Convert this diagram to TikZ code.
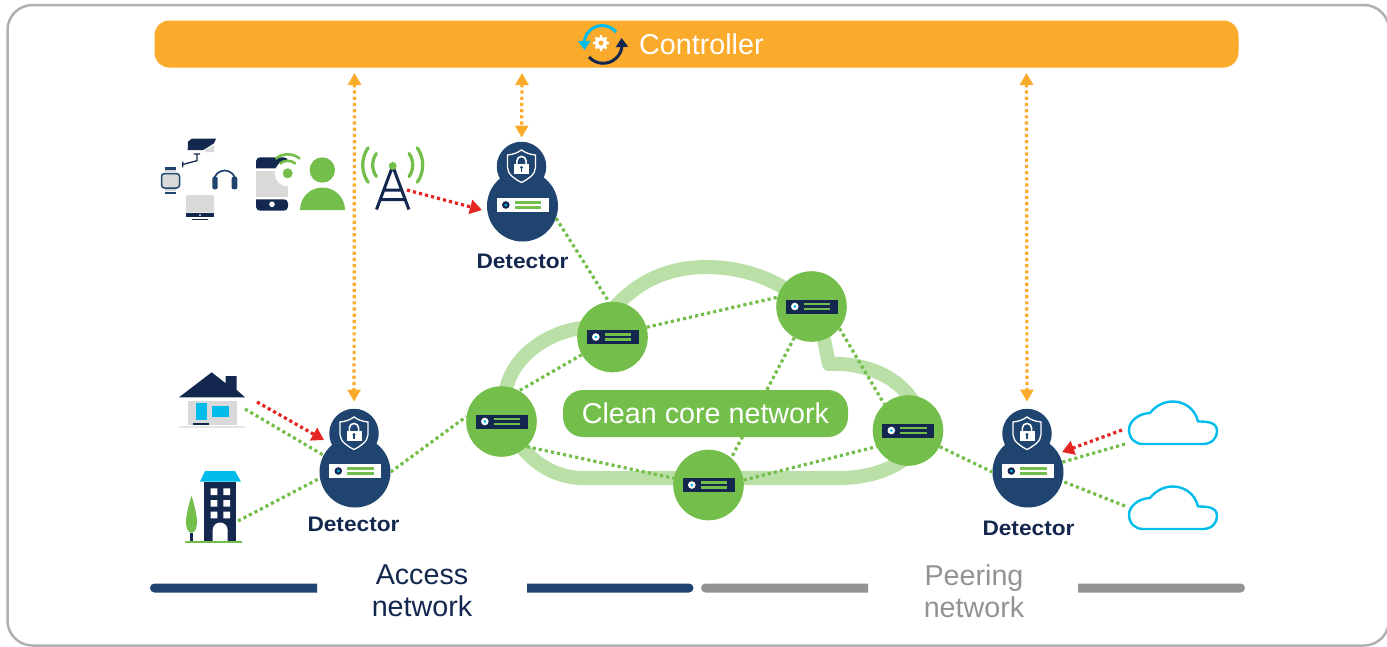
\documentclass[tikz,border=0pt]{standalone}
\usepackage{fontspec}
\setmainfont{Liberation Sans}
\newfontfamily\detfont[FakeStretch=1.08]{Liberation Sans}
\usetikzlibrary{arrows.meta}
\definecolor{netgreen}{HTML}{74BF4B}
\definecolor{palegreen}{HTML}{BBE0A7}
\definecolor{netnavy}{HTML}{14284F}
\definecolor{netblue}{HTML}{1F4470}
\definecolor{netcyan}{HTML}{00BCEB}
\definecolor{netorange}{HTML}{FBAB2C}
\definecolor{netred}{HTML}{E52521}
\definecolor{netgray}{HTML}{D9D9D9}
\definecolor{lanegray}{HTML}{939393}
\definecolor{framegray}{HTML}{B0B0B0}
\tikzset{
  core/.style={circle, fill=netgreen, minimum size=70.6pt, inner sep=0pt},
  detbody/.style={circle, fill=netblue, minimum size=71pt, inner sep=0pt},
  dethead/.style={circle, fill=netblue, minimum size=49.5pt, inner sep=0pt},
  detlabel/.style={text=netnavy, font=\detfont\bfseries\fontsize{21}{24}\selectfont, inner sep=0pt},
  bigtext/.style={font=\fontsize{28.7}{32}\selectfont, align=center, inner sep=0pt},
  link/.style={netgreen, line width=3.2pt, dash pattern=on 3.2pt off 3pt},
  attack/.style={netred, line width=3.2pt, dash pattern=on 3.2pt off 3pt, -{Triangle[length=12pt,width=14pt]}},
  sync/.style={netorange, line width=3.2pt, dash pattern=on 3.2pt off 3pt, {Triangle[length=12pt,width=13pt]}-{Triangle[length=12pt,width=13pt]}},
  pics/rack/.style 2 args={code={
    \fill[#1] (-26,-7) rectangle (26,7);
    \fill[#2] (-16.7,0) circle (3.8);
    \fill[netcyan] (-16.7,0) circle (1.5);
    \draw[netgreen, line width=2.3pt] (-8,2.5) -- (18.5,2.5) (-8,-2.5) -- (18.5,-2.5);
  }},
  pics/shieldlock/.style={code={
    \draw[white, line width=1.3pt] (0,16.5) .. controls (-4,13.5) and (-9,12) .. (-14,11.5) -- (-14,-1) .. controls (-14,-8) and (-6,-13) .. (0,-16) .. controls (6,-13) and (14,-8) .. (14,-1) -- (14,11.5) .. controls (9,12) and (4,13.5) .. (0,16.5) -- cycle;
    \draw[white, line width=1.6pt] (-4.6,2) -- (-4.6,5.5) arc (180:0:4.6) -- (4.6,2);
    \fill[white] (-7.5,-7.5) rectangle (7.5,3);
    \fill[netblue] (0,-1) circle (1.7);
    \fill[netblue] (-0.8,-1) rectangle (0.8,-5);
  }},
  pics/cloudicon/.style={code={
    \draw[netcyan, line width=2.4pt, line join=round] (-30,-21.5) -- (30,-21.5) .. controls (39,-21.5) and (44,-15) .. (44,-9) .. controls (44,0) and (36,1) .. (25,1) .. controls (22,14) and (11,21) .. (0,21) .. controls (-9,21) and (-17,17) .. (-23,9.5) .. controls (-36,9) and (-44,0) .. (-44,-7) .. controls (-44,-16) and (-38,-21.5) .. (-30,-21.5) -- cycle;
  }}
}
\begin{document}
\begin{tikzpicture}[x=1pt,y=1pt]
  \useasboundingbox (0,-646) rectangle (1387,0);
  % Frame
  \draw[framegray, line width=2.5pt, rounded corners=25pt] (7.5,-5) rectangle (1389,-645.5);
  % Controller bar
  \node[fill=netorange, rounded corners=15pt, minimum width=1084pt, minimum height=47pt, inner sep=0pt] (ctrlbar) at (696.5,-44) {};
  \node[bigtext, text=white, anchor=base west] (ctrltext) at (639,-54) {Controller};
  \draw[netcyan, line width=3pt, -{Triangle[length=9pt,width=12pt]}] (616,-32) arc (40:172:18) -- (584.5,-50);
  \draw[netnavy, line width=3pt, -{Triangle[length=9pt,width=12pt]}] (589,-57) arc (222:352:19) -- (621.5,-38);
  \draw[white, line width=2.4pt] (593,-43) -- (609,-43) (601,-35) -- (601,-51) (595.5,-37.5) -- (606.5,-48.5) (595.5,-48.5) -- (606.5,-37.5);
  \fill[white] (601,-43) circle (6);
  \fill[netorange] (601,-43) circle (2.5);
  % Cloud
  \draw[palegreen, line width=14pt, line join=round, line cap=round] (583,-478) -- (840,-478) .. controls (885,-478) and (925,-455) .. (922,-425) .. controls (915,-385) and (875,-362) .. (829,-364) -- (822,-330) .. controls (805,-290) and (755,-267) .. (707,-267) .. controls (670,-267) and (630,-280) .. (600,-327) .. controls (550,-325) and (505,-360) .. (505,-400) .. controls (505,-440) and (540,-478) .. (583,-478) -- cycle;
  % Core routers
  \node[core] (coreA) at (612.5,-337) {};
  \node[core] (coreB) at (811.5,-306.5) {};
  \node[core] (coreC) at (501.5,-421.5) {};
  \node[core] (coreD) at (908,-430.5) {};
  \node[core] (coreE) at (708.5,-485) {};
  \pic at (coreA) {rack={netnavy}{white}};
  \pic at (coreB) {rack={netnavy}{white}};
  \pic at (coreC) {rack={netnavy}{white}};
  \pic at (coreD) {rack={netnavy}{white}};
  \pic at (coreE) {rack={netnavy}{white}};
  % Detectors
  \node[detbody] (detAbody) at (355,-472) {};
  \node[dethead] (detAhead) at (354,-433.5) {};
  \node[detlabel] (detAtext) at (353.5,-524) {Detector};
  \node[detbody] (detBbody) at (522.5,-206) {};
  \node[dethead] (detBhead) at (521.5,-166.5) {};
  \node[detlabel] (detBtext) at (522.5,-261) {Detector};
  \node[detbody] (detCbody) at (1028,-472) {};
  \node[dethead] (detChead) at (1027,-433.5) {};
  \node[detlabel] (detCtext) at (1028.5,-528) {Detector};
  \pic at ([yshift=1pt]detAbody) {rack={white}{netnavy}};
  \pic at ([yshift=1pt]detBbody) {rack={white}{netnavy}};
  \pic at ([yshift=1pt]detCbody) {rack={white}{netnavy}};
  \pic at (detAhead) {shieldlock};
  \pic at (detBhead) {shieldlock};
  \pic at (detChead) {shieldlock};
  % Free connector ends
  \coordinate (houseG) at (245,-409);
  \coordinate (houseR) at (257,-402);
  \coordinate (towerR) at (407,-190);
  \coordinate (blockG) at (238,-521);
  \coordinate (cloudR) at (1122,-430);
  \coordinate (cloudA) at (1125,-444);
  \coordinate (cloudB) at (1125,-506);
  \coordinate (barA) at (354.5,-73);
  \coordinate (barB) at (522,-73);
  \coordinate (barC) at (1026.5,-73);
  % Green links
  \draw[link] (detBbody.-20) -- (coreA.96);
  \draw[link] (coreA.16) -- (coreB.165);
  \draw[link] (coreA.210) -- (coreC.60);
  \draw[link] (coreB.-38) -- (coreD.132);
  \draw[link] (coreB.241) -- (coreE.50);
  \draw[link] (coreC.-45) -- (coreE.169);
  \draw[link] (coreE.8) -- (coreD.207);
  \draw[link] (detAbody.0) -- (coreC.172);
  \draw[link] (coreD.-27) -- (detCbody.180);
  \draw[link] (houseG) -- (detAbody.152);
  \draw[link] (blockG) -- (detAbody.190);
  \draw[link] (cloudA) -- (detCbody.16);
  \draw[link] (cloudB) -- (detCbody.-15);
  % Core label
  \node[bigtext, fill=netgreen, text=white, rounded corners=20pt, minimum width=285pt, minimum height=47pt] (corelabel) at (705.5,-413.5) {Clean core network};
  % Red and orange arrows
  \draw[attack] (towerR) -- (482,-210);
  \draw[attack] (houseR) -- (324,-440);
  \draw[attack] (cloudR) -- (1062,-452);
  \draw[sync, shorten >=7pt] (barA) -- (detAhead);
  \draw[sync, shorten >=4pt] (barB) -- (detBhead);
  \draw[sync, shorten >=7pt] (barC) -- (detChead);
  % Camera
  \fill[netnavy] (187.7,-150) -- (188,-141.7) -- (191.7,-138.7) -- (216,-138.7) -- (214,-143.3) -- (203.3,-150) -- cycle;
  \fill[netgray] (205,-152) -- (205,-150) -- (214,-145) -- (214,-152) -- cycle;
  \draw[netnavy, line width=1.3pt] (193.5,-154) -- (200,-154) (197,-154) -- (197,-160.7) -- (183.3,-164.3) (182.7,-161.7) -- (182.7,-167.3);
  % Watch
  \draw[netblue, line width=1.5pt, fill=netgray, rounded corners=3pt] (161.5,-173.5) rectangle (179.5,-188);
  \fill[netblue] (165,-167) rectangle (176,-169.5);
  \fill[netgray] (165,-170) rectangle (176,-172);
  \fill[netgray] (165,-189) rectangle (176,-191);
  \fill[netblue] (165,-191.5) rectangle (176,-194);
  % Headphones
  \draw[netblue, line width=1.7pt] (213.7,-181.5) arc (180:0:11);
  \fill[netblue, rounded corners=2pt] (212.3,-176.7) rectangle (217.7,-189.3);
  \fill[netblue, rounded corners=2pt] (231.7,-176.7) rectangle (237.3,-189.3);
  % Monitor
  \fill[netgray, rounded corners=2pt] (186,-195) rectangle (214,-212.7);
  \fill[netnavy] (186,-213.3) rectangle (214,-216.7);
  \fill[white] (200,-215) circle (1);
  \fill[netnavy] (191.7,-218.7) rectangle (208.3,-219.7);
  % Phone
  \fill[netnavy, rounded corners=4pt] (256,-168.3) -- (256,-157.3) -- (288,-157.3) -- (288,-168.3) [sharp corners] -- cycle;
  \fill[netgray] (256,-170.7) rectangle (288,-197.3);
  \fill[netnavy, rounded corners=4pt] (256,-199.3) -- (256,-210.7) -- (288,-210.7) -- (288,-199.3) [sharp corners] -- cycle;
  \fill[white] (272,-204.3) circle (2.8);
  \fill[white] (287.7,-173.3) circle (13);
  \fill[netgreen] (287.7,-173.3) circle (5);
  \draw[netgreen, line width=2.6pt] (287.7,-173.3) ++(130:12.5) arc (130:50:12.5);
  \draw[netgreen, line width=2.6pt] (287.7,-173.3) ++(130:19) arc (130:50:19);
  % Person
  \fill[netgreen] (322.3,-170) circle (12.7);
  \fill[netgreen] (300,-210) arc (180:0:22.5) -- cycle;
  % Tower
  \draw[netnavy, line width=3pt] (376.5,-209.5) -- (392.7,-166) -- (408.9,-209.5) (385,-190) -- (400.4,-190) (381,-199.5) -- (404.4,-199.5);
  \fill[netgreen] (392.7,-166) circle (4);
  \draw[netgreen, line width=3.3pt, line cap=round] (392.7,-165) ++(145:20) arc (145:215:20);
  \draw[netgreen, line width=3.3pt, line cap=round] (392.7,-165) ++(145:30) arc (145:215:30);
  \draw[netgreen, line width=3.3pt, line cap=round] (392.7,-165) ++(35:20) arc (35:-35:20);
  \draw[netgreen, line width=3.3pt, line cap=round] (392.7,-165) ++(35:30) arc (35:-35:30);
  % House
  \fill[netnavy] (179,-397.3) -- (211.7,-372.3) -- (225.7,-383.3) -- (225.7,-376) -- (236.7,-376) -- (236.7,-390) -- (245,-397.3) -- cycle;
  \fill[netgray] (187.7,-401) rectangle (236.7,-425);
  \fill[netgray!70] (179,-425.7) rectangle (245,-427.7);
  \fill[netcyan] (195.7,-403.3) rectangle (206.7,-420);
  \fill[netcyan] (211.7,-406) rectangle (229,-417.3);
  \fill[netnavy] (193.3,-422.7) rectangle (209.3,-425.3);
  % Building
  \fill[netcyan] (205,-471) -- (235,-471) -- (241,-481.7) -- (200,-481.7) -- cycle;
  \fill[netnavy] (204.3,-482.3) rectangle (236,-541);
  \fill[white] (210.7,-488.3) rectangle (217.3,-495) (223.3,-488.3) rectangle (230,-495) (210.7,-500) rectangle (217.3,-506.7) (223.3,-500) rectangle (230,-506.7) (210.7,-511.7) rectangle (217.3,-518.3) (223.3,-511.7) rectangle (230,-518.3);
  \fill[white] (212.7,-541) -- (212.7,-530) arc (180:0:7.5) -- (227.7,-541) -- cycle;
  \fill[netnavy] (190,-532.7) rectangle (193,-541);
  \fill[netgreen] (191.5,-495.7) .. controls (187,-510) and (186,-518) .. (186,-522) .. controls (186,-528) and (188,-532.7) .. (191.5,-532.7) .. controls (195,-532.7) and (197,-528) .. (197,-522) .. controls (197,-518) and (196,-510) .. (191.5,-495.7) -- cycle;
  \fill[netgreen] (185,-541) rectangle (241.7,-542.7);
  % Outside clouds
  \pic at (1173,-422.5) {cloudicon};
  \pic at (1173,-507.5) {cloudicon};
  % Lane bars
  \fill[netblue] (317,-583.5) -- (154.5,-583.5) arc (90:270:4.5) -- (317,-592.5) -- cycle;
  \fill[netblue] (527,-583.5) -- (689,-583.5) arc (90:-90:4.5) -- (527,-592.5) -- cycle;
  \fill[lanegray] (868,-583.5) -- (705.5,-583.5) arc (90:270:4.5) -- (868,-592.5) -- cycle;
  \fill[lanegray] (1078,-583.5) -- (1240.5,-583.5) arc (90:-90:4.5) -- (1078,-592.5) -- cycle;
  \node[bigtext, text=netnavy] (accesstext) at (422,-591) {Access\\network};
  \node[bigtext, text=lanegray] (peertext) at (974,-591) {Peering\\network};
\end{tikzpicture}
\end{document}
